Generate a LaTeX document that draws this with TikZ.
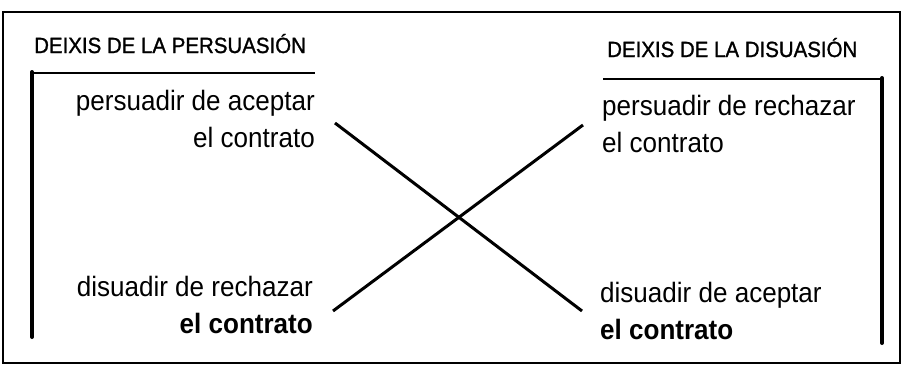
\documentclass[tikz,border=0pt]{standalone}
\usepackage{fontspec}
\setmainfont{Liberation Sans}
\newfontfamily\condfont[FakeStretch=0.93]{Liberation Sans}
\newfontfamily\titlefont[FakeStretch=0.93,FakeBold=1.2]{Liberation Sans}
\begin{document}
\begin{tikzpicture}[x=1pt,y=-1pt,
  frame/.style={line width=1.2pt},
  barh/.style={line width=2.4pt},
  barv/.style={line width=4pt},
  cross/.style={line width=3pt},
  title/.style={inner sep=0pt,font=\titlefont\fontsize{22}{26}\selectfont},
  term/.style={inner sep=0pt,font=\condfont\fontsize{28}{32}\selectfont},
  termb/.style={term,font=\condfont\fontsize{28}{32}\selectfont\bfseries}]
\useasboundingbox (0,0) rectangle (905,367);
% outer frame
\draw[frame] (3,12) rectangle (900,363);
% titles
\node[title,anchor=base west] (tl) at (34,53) {DEIXIS DE LA PERSUASIÓN};
\node[title,anchor=base west] (tr) at (607,57) {DEIXIS DE LA DISUASIÓN};
% brackets
\coordinate (lt) at (32,73);
\coordinate (lte) at (315,73);
\coordinate (lb) at (32,337);
\draw[barh] (lt) -- (lte);
\draw[barv,line cap=round] (lb) -- ([yshift=1pt]lt);
\coordinate (rt) at (882,79);
\coordinate (rts) at (603,79);
\coordinate (rb) at (882,343);
\draw[barh] (rts) -- (rt);
\draw[barv,line cap=round] (rb) -- ([yshift=1pt]rt);
% terms
\node[term,anchor=base east] (pa1) at (315,110) {persuadir de aceptar};
\node[term,anchor=base east] (pa2) at (315,147) {el contrato};
\node[term,anchor=base west] (pr1) at (602,115) {persuadir de rechazar};
\node[term,anchor=base west] (pr2) at (602,152) {el contrato};
\node[term,anchor=base east] (dr1) at (313,296) {disuadir de rechazar};
\node[termb,anchor=base east] (dr2) at (313,333) {el contrato};
\node[term,anchor=base west] (da1) at (600,302) {disuadir de aceptar};
\node[termb,anchor=base west] (da2) at (600,339) {el contrato};
% cross
\coordinate (c1) at (335,123);
\coordinate (c2) at (582,311);
\coordinate (c3) at (583,125);
\coordinate (c4) at (333,311);
\draw[cross] (c1) -- (c2);
\draw[cross] (c3) -- (c4);
\end{tikzpicture}
\end{document}
